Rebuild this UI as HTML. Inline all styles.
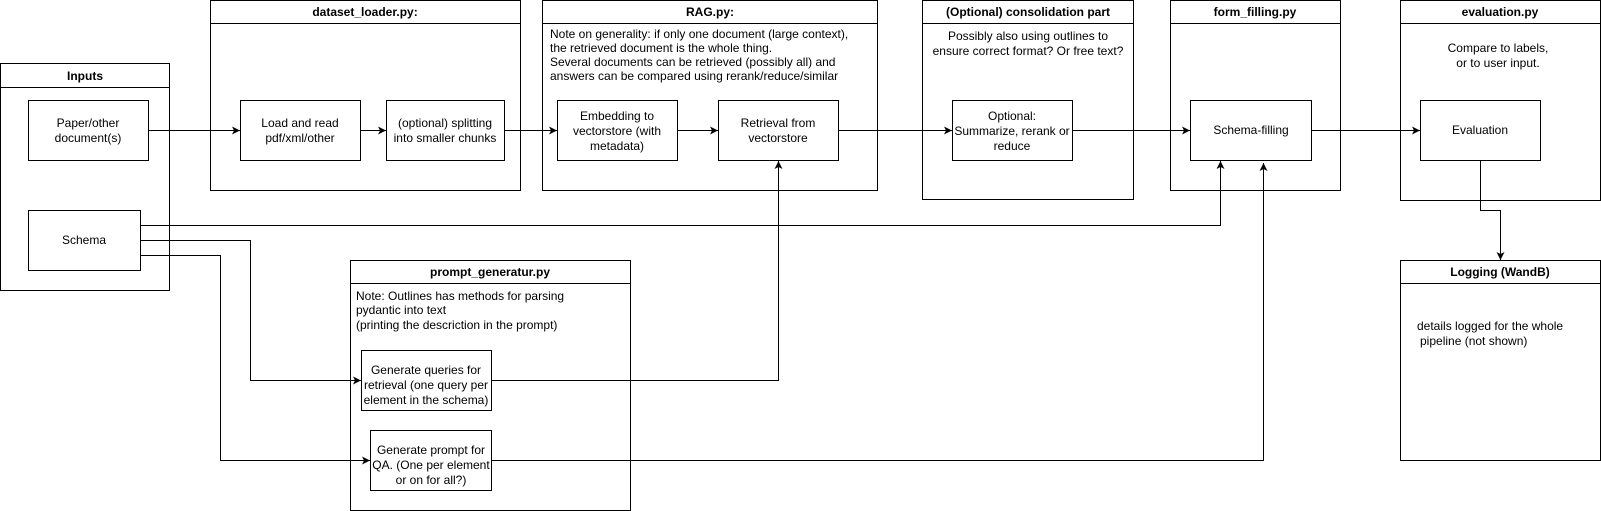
<!DOCTYPE html>
<html><head><meta charset="utf-8"><style>
html,body{margin:0;padding:0;background:#fff;}
svg{display:block;font-family:"Liberation Sans",Arial,sans-serif;font-size:12px;}
</style></head><body>
<svg width="1601" height="511" viewBox="0 0 1601 511" xmlns="http://www.w3.org/2000/svg">
<defs>
<marker id="a" markerWidth="10" markerHeight="10" refX="8" refY="4" orient="auto" markerUnits="userSpaceOnUse">
<path d="M0,0 L8,4 L0,8 L2,4 Z" fill="#000"/>
</marker>
</defs>
<g fill="none" stroke="#000" stroke-width="1">
<rect x="0.5" y="63.5" width="169" height="227"/><line x1="0" y1="87.5" x2="169" y2="87.5"/>
<rect x="210.5" y="0.5" width="310" height="190"/><line x1="210" y1="23.5" x2="521" y2="23.5"/>
<rect x="542.5" y="0.5" width="335" height="190"/><line x1="542" y1="23.5" x2="877" y2="23.5"/>
<rect x="922.5" y="0.5" width="211" height="199"/><line x1="922" y1="23.5" x2="1133" y2="23.5"/>
<rect x="1170.5" y="0.5" width="170" height="190"/><line x1="1170" y1="23.5" x2="1341" y2="23.5"/>
<rect x="1400.5" y="0.5" width="200" height="200"/><line x1="1400" y1="23.5" x2="1601" y2="23.5"/>
<rect x="1400.5" y="260.5" width="200" height="200"/><line x1="1400" y1="283.5" x2="1601" y2="283.5"/>
<rect x="350.5" y="260.5" width="280" height="250"/><line x1="350" y1="283.5" x2="631" y2="283.5"/>
<rect x="28.5" y="100.5" width="120" height="60"/>
<rect x="28.5" y="210.5" width="112" height="60"/>
<rect x="240.5" y="100.5" width="120" height="60"/>
<rect x="386.5" y="100.5" width="118" height="60"/>
<rect x="557.5" y="100.5" width="120" height="60"/>
<rect x="718.5" y="100.5" width="120" height="60"/>
<rect x="952.5" y="100.5" width="120" height="60"/>
<rect x="1190.5" y="100.5" width="121" height="60"/>
<rect x="1420.5" y="100.5" width="120" height="60"/>
<rect x="361.5" y="350.5" width="130" height="60"/>
<rect x="370.5" y="430.5" width="121" height="60"/>
<path d="M148,130.5 H240" marker-end="url(#a)"/>
<path d="M360,130.5 H386" marker-end="url(#a)"/>
<path d="M504,130.5 H557" marker-end="url(#a)"/>
<path d="M677,130.5 H718" marker-end="url(#a)"/>
<path d="M838,130.5 H952" marker-end="url(#a)"/>
<path d="M1072,130.5 H1190" marker-end="url(#a)"/>
<path d="M1311,130.5 H1420" marker-end="url(#a)"/>
<path d="M140,225.5 H1220.5 V161" marker-end="url(#a)"/>
<path d="M140,240.5 H250.5 V380.5 H361" marker-end="url(#a)"/>
<path d="M140,255.5 H220.5 V460.5 H370" marker-end="url(#a)"/>
<path d="M491,380.5 H778.5 V161" marker-end="url(#a)"/>
<path d="M491,460.5 H1263.5 V163" marker-end="url(#a)"/>
<path d="M1480.5,160 V210.5 H1500.5 V260" marker-end="url(#a)"/>
</g>
<g fill="#000" text-anchor="middle">
<g font-weight="bold">
<text x="85" y="80">Inputs</text>
<text x="365" y="16">dataset_loader.py:</text>
<text x="710" y="16">RAG.py:</text>
<text x="1028" y="16">(Optional) consolidation part</text>
<text x="1255" y="16">form_filling.py</text>
<text x="1500" y="16">evaluation.py</text>
<text x="1500" y="276">Logging (WandB)</text>
<text x="490" y="276">prompt_generatur.py</text>
</g>
<text x="88" y="127">Paper/other</text><text x="88" y="142">document(s)</text>
<text x="84" y="244">Schema</text>
<text x="300" y="127">Load and read</text><text x="300" y="142">pdf/xml/other</text>
<text x="445" y="127">(optional) splitting</text><text x="445" y="142">into smaller chunks</text>
<text x="617" y="120">Embedding to</text><text x="617" y="135">vectorstore (with</text><text x="617" y="150">metadata)</text>
<text x="778" y="127">Retrieval from</text><text x="778" y="142">vectorstore</text>
<text x="1012" y="120">Optional:</text><text x="1012" y="135">Summarize, rerank or</text><text x="1012" y="150">reduce</text>
<text x="1251" y="134">Schema-filling</text>
<text x="1480" y="134">Evaluation</text>
<text x="426" y="374">Generate queries for</text><text x="426" y="389">retrieval (one query per</text><text x="426" y="404">element in the schema)</text>
<text x="431" y="454">Generate prompt for</text><text x="431" y="469">QA. (One per element</text><text x="431" y="484">or on for all?)</text>
<text x="1028" y="40">Possibly also using outlines to</text><text x="1028" y="55">ensure correct format? Or free text?</text>
<text x="1498" y="52">Compare to labels,</text><text x="1498" y="67"> or to user input.</text>
</g>
<g fill="#000">
<text x="550" y="38">Note on generality: if only one document (large context),</text>
<text x="550" y="52">the retrieved document is the whole thing.</text>
<text x="550" y="66">Several documents can be retrieved (possibly all) and</text>
<text x="550" y="80">answers can be compared using rerank/reduce/similar</text>
<text x="356" y="300">Note: Outlines has methods for parsing</text>
<text x="356" y="314">pydantic into text</text>
<text x="356" y="329">(printing the descriction in the prompt)</text>
<text x="1417" y="330">details logged for the whole</text>
<text x="1420" y="345">pipeline (not shown)</text>
</g>
</svg>
</body></html>
